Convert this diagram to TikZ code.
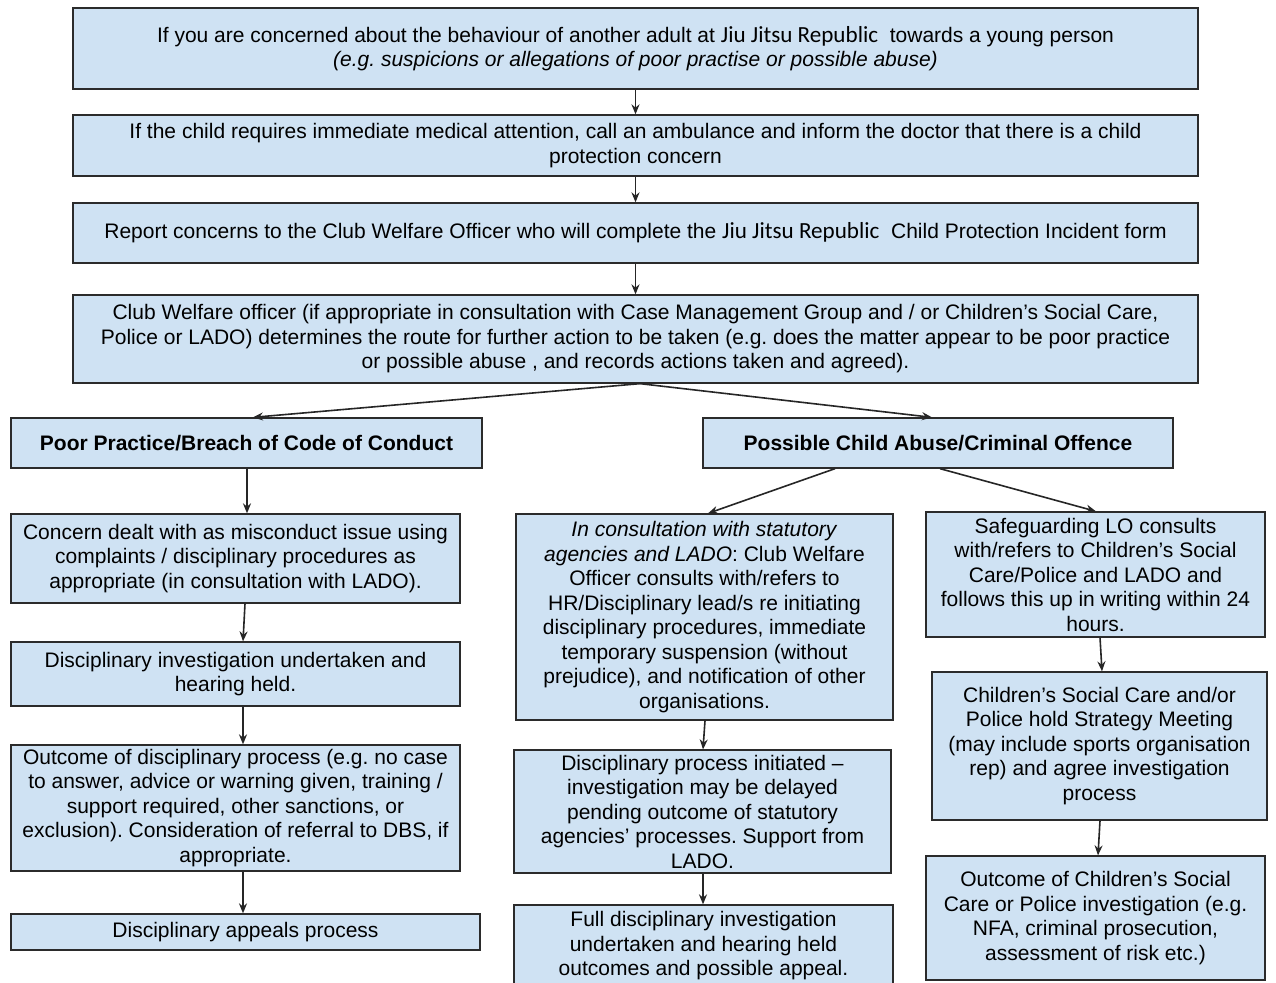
\documentclass[tikz,border=0pt]{standalone}
\usepackage{fontspec}
\setmainfont{Liberation Sans}
\newfontfamily\jjr{Carlito}[Scale=1.1]
\usetikzlibrary{arrows.meta}
\definecolor{boxblue}{HTML}{CFE2F3}
\definecolor{boxline}{HTML}{2B2B2B}
\frenchspacing

\begin{document}
\begin{tikzpicture}[x=1pt,y=-1pt,
  box/.style={draw=boxline,fill=boxblue,line width=1.3pt,align=center,inner sep=0pt,
              font=\fontsize{21}{24.5}\selectfont},
  arr/.style={-{Stealth[length=10pt,width=8pt]},line width=1.6pt,draw=black!85}]
\useasboundingbox[fill=white] (0,0) rectangle (1276,982);
% top row
\node[box,minimum width=1125,minimum height=81] (concerned) at (635.5,48.5)
  {If you are concerned about the behaviour of another adult at {\jjr Jiu Jitsu Republic}\ \ towards a young person\\
   \textit{(e.g. suspicions or allegations of poor practise or possible abuse)}};
\node[box,minimum width=1125,minimum height=61] (medical) at (635.5,145.5)
  {If the child requires immediate medical attention, call an ambulance and inform the doctor that there is a child\\
   protection concern};
\node[box,minimum width=1125,minimum height=60] (report) at (635.5,233)
  {Report concerns to the Club Welfare Officer who will complete the {\jjr Jiu Jitsu Republic}\ \ Child Protection Incident form};
\node[box,minimum width=1125,minimum height=88] (cwo) at (635.5,339)
  {Club Welfare officer (if appropriate in consultation with Case Management Group and / or Children’s Social Care,\\
   Police or LADO) determines the route for further action to be taken (e.g. does the matter appear to be poor practice\\
   or possible abuse , and records actions taken and agreed).};
% two routes
\node[box,minimum width=471,minimum height=50,font=\fontsize{21}{24.5}\selectfont\bfseries] (poor) at (246.5,443)
  {Poor Practice/Breach of Code of Conduct};
\node[box,minimum width=470,minimum height=50,font=\fontsize{21}{24.5}\selectfont\bfseries] (abuse) at (938,443)
  {Possible Child Abuse/Criminal Offence};
% left column
\node[box,minimum width=449,minimum height=89] (misconduct) at (235.5,558.5)
  {Concern dealt with as misconduct issue using\\ complaints / disciplinary procedures as\\ appropriate (in consultation with LADO).};
\node[box,minimum width=449,minimum height=64] (hearing) at (235.5,674)
  {Disciplinary investigation undertaken and\\ hearing held.};
\node[box,minimum width=449,minimum height=126] (outcome) at (235.5,808)
  {Outcome of disciplinary process (e.g. no case\\ to answer, advice or warning given, training /\\
   support required, other sanctions, or\\ exclusion). Consideration of referral to DBS, if\\ appropriate.};
\node[box,minimum width=469,minimum height=36] (appeals) at (245.5,932)
  {Disciplinary appeals process};
% middle column
\node[box,minimum width=377,minimum height=206] (consult) at (704.5,617)
  {\textit{In consultation with statutory}\\ \textit{agencies and LADO}: Club Welfare\\ Officer consults with/refers to\\
   HR/Disciplinary lead/s re initiating\\ disciplinary procedures, immediate\\ temporary suspension (without\\
   prejudice), and notification of other\\ organisations.};
\node[box,minimum width=377,minimum height=123] (initiated) at (702.5,811.5)
  {Disciplinary process initiated –\\ investigation may be delayed\\ pending outcome of statutory\\
   agencies’ processes. Support from\\ LADO.};
\node[box,minimum width=379,minimum height=82] (full) at (703.5,946)
  {Full disciplinary investigation\\ undertaken and hearing held\\ outcomes and possible appeal.};
% right column
\node[box,minimum width=339,minimum height=125] (safeguard) at (1095.5,574.5)
  {Safeguarding LO consults\\ with/refers to Children’s Social\\ Care/Police and LADO and\\
   follows this up in writing within 24\\ hours.};
\node[box,minimum width=335,minimum height=148] (strategy) at (1099.5,746)
  {Children’s Social Care and/or\\ Police hold Strategy Meeting\\ (may include sports organisation\\
   rep) and agree investigation\\ process};
\node[box,minimum width=339,minimum height=124] (police) at (1095.5,918)
  {Outcome of Children’s Social\\ Care or Police investigation (e.g.\\ NFA, criminal prosecution,\\
   assessment of risk etc.)};
% connectors
\draw[arr] (concerned) -- (medical);
\draw[arr] (medical) -- (report);
\draw[arr] (report) -- (cwo);
\draw[arr] ([xshift=4.5pt]cwo.south) -- ([xshift=6.5pt]poor.north);
\draw[arr] ([xshift=4.5pt]cwo.south) -- ([xshift=-6pt]abuse.north);
\draw[arr] ([xshift=0.5pt]poor.south) -- ([xshift=11.5pt]misconduct.north);
\draw[arr] ([xshift=9.5pt]misconduct.south) -- ([xshift=7.5pt]hearing.north);
\draw[arr] ([xshift=7.5pt]hearing.south) -- ([xshift=7.5pt]outcome.north);
\draw[arr] ([xshift=7.5pt]outcome.south) -- ([xshift=-2.5pt]appeals.north);
\draw[arr] ([xshift=-103pt]abuse.south) -- ([xshift=3.5pt]consult.north);
\draw[arr] ([xshift=2pt]abuse.south) -- ([xshift=0.5pt]safeguard.north);
\draw[arr] ([xshift=0.5pt]consult.south) -- ([xshift=0.5pt]initiated.north);
\draw[arr] ([xshift=0.5pt]initiated.south) -- ([xshift=-0.5pt]full.north);
\draw[arr] ([xshift=4.5pt]safeguard.south) -- ([xshift=2.5pt]strategy.north);
\draw[arr] ([xshift=0.5pt]strategy.south) -- ([xshift=2.5pt]police.north);
\end{tikzpicture}
\end{document}
